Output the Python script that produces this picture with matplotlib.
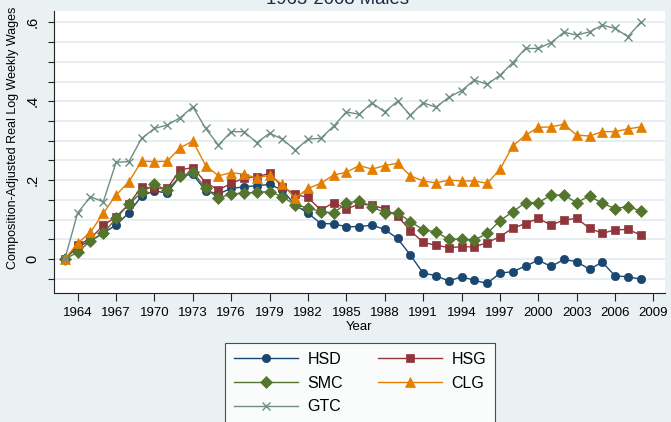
import numpy as np
import matplotlib
matplotlib.use("Agg")
from matplotlib import pyplot as plt

# ---------------- Data ----------------
years = list(range(1963, 2009))

hsd = [0.000, 0.031, 0.046, 0.066, 0.086, 0.117, 0.160, 0.173, 0.167, 0.210,
       0.215, 0.173, 0.165, 0.179, 0.183, 0.186, 0.189, 0.175, 0.137, 0.116,
       0.090, 0.089, 0.082, 0.082, 0.086, 0.075, 0.052, 0.010, -0.036, -0.042,
       -0.056, -0.045, -0.054, -0.062, -0.036, -0.032, -0.018, -0.003, -0.019, -0.001,
       -0.007, -0.026, -0.008, -0.043, -0.045, -0.051]

hsg = [0.000, 0.035, 0.052, 0.085, 0.107, 0.139, 0.183, 0.179, 0.179, 0.226,
       0.232, 0.194, 0.175, 0.192, 0.205, 0.209, 0.217, 0.183, 0.164, 0.156,
       0.124, 0.143, 0.127, 0.139, 0.137, 0.127, 0.109, 0.072, 0.042, 0.035,
       0.029, 0.031, 0.031, 0.041, 0.057, 0.078, 0.090, 0.103, 0.086, 0.099,
       0.103, 0.078, 0.065, 0.074, 0.075, 0.061]

smc = [0.000, 0.017, 0.046, 0.065, 0.103, 0.139, 0.169, 0.189, 0.175, 0.210,
       0.221, 0.179, 0.154, 0.165, 0.167, 0.169, 0.171, 0.158, 0.137, 0.130,
       0.120, 0.117, 0.141, 0.148, 0.133, 0.117, 0.117, 0.095, 0.074, 0.069,
       0.050, 0.051, 0.048, 0.065, 0.097, 0.120, 0.143, 0.143, 0.162, 0.162,
       0.143, 0.160, 0.141, 0.128, 0.133, 0.122]

clg = [0.000, 0.040, 0.068, 0.116, 0.162, 0.196, 0.248, 0.247, 0.248, 0.282,
       0.299, 0.237, 0.211, 0.219, 0.215, 0.205, 0.213, 0.189, 0.154, 0.179,
       0.192, 0.213, 0.220, 0.237, 0.228, 0.237, 0.243, 0.211, 0.198, 0.193,
       0.200, 0.198, 0.198, 0.192, 0.227, 0.287, 0.314, 0.334, 0.335, 0.342,
       0.314, 0.312, 0.323, 0.323, 0.330, 0.335]

gtc = [0.000, 0.117, 0.158, 0.145, 0.245, 0.247, 0.306, 0.331, 0.340, 0.358,
       0.386, 0.331, 0.289, 0.323, 0.323, 0.295, 0.319, 0.304, 0.276, 0.304,
       0.306, 0.337, 0.373, 0.367, 0.396, 0.373, 0.400, 0.365, 0.396, 0.385,
       0.410, 0.427, 0.454, 0.443, 0.466, 0.498, 0.534, 0.534, 0.549, 0.575,
       0.568, 0.576, 0.593, 0.585, 0.564, 0.600]

x_ticks = list(range(1964, 2010, 3))
y_ticks = [-0.05, 0.0, 0.05, 0.1, 0.15, 0.2, 0.25, 0.3, 0.35, 0.4, 0.45, 0.5, 0.55, 0.6]
y_labels = ["", "0", "", "", "", ".2", "", "", "", ".4", "", "", "", ".6"]

# ---------------- Style ----------------
plt.rcParams['font.family'] = ['Liberation Sans', 'DejaVu Sans']
bg = "#EAF1F3"
grid_c = "#E3EBEE"

fig = plt.figure(figsize=(6.71, 4.22), dpi=100, facecolor=bg)
ax = fig.add_axes([54 / 671, 1 - 293.3 / 422, (665 - 54) / 671, (293.3 - 11) / 422])
ax.set_facecolor("white")

series = [
    ("HSD", hsd, "#1A476F", "o", 6.0),
    ("HSG", hsg, "#90353B", "s", 6.0),
    ("SMC", smc, "#55752F", "D", 6.5),
    ("CLG", clg, "#E37E00", "^", 7.0),
    ("GTC", gtc, "#6E8E84", "x", 5.5),
]

lines = {}
for name, vals, col, mk, ms in series:
    ln, = ax.plot(years, vals, color=col, marker=mk, markersize=ms, lw=1.0,
                  markeredgewidth=1.0 if mk == "x" else 0.5, label=name, zorder=3)
    lines[name] = ln

ax.set_xlim(1962.15, 2009.9)
ax.set_ylim(-0.087, 0.629)
ax.set_xticks(x_ticks)
ax.set_xticklabels([str(y) for y in x_ticks], fontsize=9.5)
ax.set_yticks(y_ticks)
ax.set_yticklabels(y_labels, fontsize=10.5, rotation=90, va="center")
ax.yaxis.grid(True, color=grid_c, lw=1.2, zorder=0)
ax.set_axisbelow(True)

for s in ["top", "right"]:
    ax.spines[s].set_visible(False)
for s in ["left", "bottom"]:
    ax.spines[s].set_color("#222222")
    ax.spines[s].set_linewidth(0.8)
ax.tick_params(axis="x", length=6, width=0.8, color="#222222", pad=4)
ax.tick_params(axis="y", length=4.5, width=0.8, color="#222222", pad=6)

ax.set_xlabel("Year", fontsize=9.5, labelpad=1)
fig.text(13 / 671, 1 - 138 / 422, "Composition-Adjusted Real Log Weekly Wages",
         rotation=90, ha="center", va="center", fontsize=9.0)
fig.text(338 / 671, 1 - 3.5 / 422, "1963-2008 Males", ha="center", va="baseline",
         fontsize=13.3, color="#1C2A48")

order = ["HSD", "SMC", "GTC", "HSG", "CLG"]
leg = fig.legend([lines[n] for n in order], order, ncol=2, loc="upper left",
                 bbox_to_anchor=(225 / 671, 1 - 343 / 422), fontsize=11.5,
                 frameon=True, fancybox=False, handlelength=4.0, handletextpad=0.6,
                 columnspacing=2.2, labelspacing=0.55, borderpad=0.55,
                 borderaxespad=0)
leg.get_frame().set_edgecolor("#222222")
leg.get_frame().set_linewidth(0.8)

fig.savefig("out.png", dpi=100, facecolor=bg)
